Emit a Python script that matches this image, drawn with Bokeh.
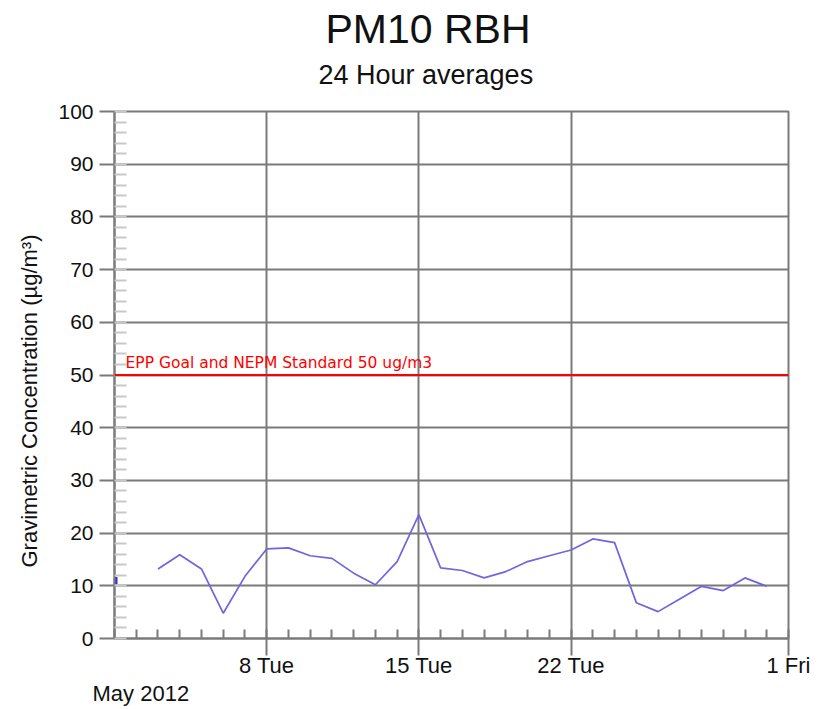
import numpy as np
import pandas as pd
from bokeh.plotting import figure
from bokeh.models import Range1d, FixedTicker, SingleIntervalTicker, Span, Label, ColumnDataSource, Title
from bokeh.embed import file_html
from bokeh.resources import INLINE

# ---------------- data ----------------
dates = pd.date_range("2012-05-01", "2012-05-31", freq="D")
pm10 = [11.0, np.nan, 13.2, 15.9, 13.2, 4.8, 11.8, 17.0, 17.2, 15.7, 15.2,
        12.4, 10.2, 14.6, 23.5, 13.4, 12.9, 11.5, 12.7, 14.6, 15.7, 16.8,
        18.9, 18.2, 6.8, 5.1, 7.5, 9.9, 9.1, 11.5, 9.9]
major_tick_dates = ["2012-05-08", "2012-05-15", "2012-05-22", "2012-06-01"]
major_tick_labels = ["8 Tue", "15 Tue", "22 Tue", "1 Fri"]
x_start, x_end = "2012-05-01", "2012-06-01"
standard_value = 50
standard_text = "EPP Goal and NEPM Standard 50 ug/m3"
title_text = "PM10 RBH"
subtitle_text = "24 Hour averages"
y_label_text = "Gravimetric Concentration (\u00b5g/m\u00b3)"
month_text = "May 2012"

def ms(d):
    return int(pd.Timestamp(d).value // 10**6)

vals = np.array(pm10, dtype=float)
src = ColumnDataSource(dict(x=dates, y=vals))
# isolated points (no neighbours) are drawn as short marks
iso = [i for i in range(len(vals)) if not np.isnan(vals[i])
       and (i == 0 or np.isnan(vals[i - 1]))
       and (i == len(vals) - 1 or np.isnan(vals[i + 1]))]
iso_src = ColumnDataSource(dict(x=dates[iso], y=vals[iso]))

GRID = "#7a7a7a"
FONT = "Liberation Sans"
TXT = "#111111"

p = figure(width=812, height=707, output_backend="svg", toolbar_location=None,
           x_axis_type="datetime",
           x_range=Range1d(ms(x_start), ms(x_end)), y_range=Range1d(0, 100),
           min_border_left=114, min_border_right=24, min_border_top=111, min_border_bottom=68)
p.title = None
p.background_fill_color = "white"
p.border_fill_color = "white"
p.outline_line_color = GRID
p.outline_line_width = 2

# grids
p.xgrid.grid_line_color = GRID
p.xgrid.grid_line_width = 2
p.ygrid.grid_line_color = GRID
p.ygrid.grid_line_width = 2

# x axis
xt = FixedTicker(ticks=[ms(d) for d in major_tick_dates],
                 minor_ticks=[ms(d) for d in pd.date_range(x_start, x_end, freq="D")])
p.xaxis.ticker = xt
p.xgrid.ticker = xt
p.xaxis.major_label_overrides = {ms(d): t for d, t in zip(major_tick_dates, major_tick_labels)}
p.xaxis.axis_line_color = GRID
p.xaxis.axis_line_width = 2
p.xaxis.major_tick_line_color = GRID
p.xaxis.major_tick_line_width = 2
p.xaxis.major_tick_out = 17
p.xaxis.major_tick_in = 0
p.xaxis.minor_tick_line_color = GRID
p.xaxis.minor_tick_line_width = 2
p.xaxis.minor_tick_in = 9
p.xaxis.minor_tick_out = 0
p.xaxis.major_label_standoff = -3
p.xaxis.major_label_text_font = FONT
p.xaxis.major_label_text_font_size = "22px"
p.xaxis.major_label_text_color = TXT

# y axis
yt = SingleIntervalTicker(interval=10, num_minor_ticks=5)
p.yaxis.ticker = yt
p.ygrid.ticker = yt
p.yaxis.axis_line_color = GRID
p.yaxis.axis_line_width = 2
p.yaxis.major_tick_line_color = GRID
p.yaxis.major_tick_line_width = 2
p.yaxis.major_tick_out = 15
p.yaxis.major_tick_in = 0
p.yaxis.minor_tick_line_color = "#c8c8c8"
p.yaxis.minor_tick_line_width = 2
p.yaxis.minor_tick_in = 12
p.yaxis.minor_tick_out = 0
p.yaxis.major_label_standoff = 6
p.yaxis.major_label_text_font = FONT
p.yaxis.major_label_text_font_size = "21px"
p.yaxis.major_label_text_color = TXT

# standard line
p.add_layout(Span(location=standard_value, dimension="width", line_color="#ff0000", line_width=2))
p.add_layout(Label(x=ms(x_start), y=standard_value, x_offset=11, y_offset=12, text=standard_text,
                   text_font="DejaVu Sans", text_font_size="15.5px", text_color="#ff0000",
                   text_baseline="alphabetic"))

# data
p.line("x", "y", source=src, line_color="#7064e0", line_width=1.7)
p.rect("x", "y", source=iso_src, width=6, height=7, width_units="screen", height_units="screen",
       fill_color="#3c2ec8", line_color=None)

# titles and outer labels
p.add_layout(Title(text=subtitle_text, align="left", offset=204, text_font=FONT,
                   text_font_size="27px", text_font_style="normal", text_color=TXT,
                   standoff=43), "above")
p.add_layout(Title(text=title_text, align="left", offset=211, text_font=FONT,
                   text_font_size="41px", text_font_style="normal", text_color=TXT,
                   standoff=-31), "above")
p.add_layout(Title(text=y_label_text, align="left", offset=71, text_font=FONT,
                   text_font_size="22px", text_font_style="normal", text_color=TXT,
                   standoff=27), "left")
p.add_layout(Title(text=month_text, align="left", offset=-22, text_font=FONT,
                   text_font_size="22px", text_font_style="normal", text_color=TXT,
                   vertical_align="top", standoff=0), "below")

open("out.html", "w").write(file_html(p, INLINE))
